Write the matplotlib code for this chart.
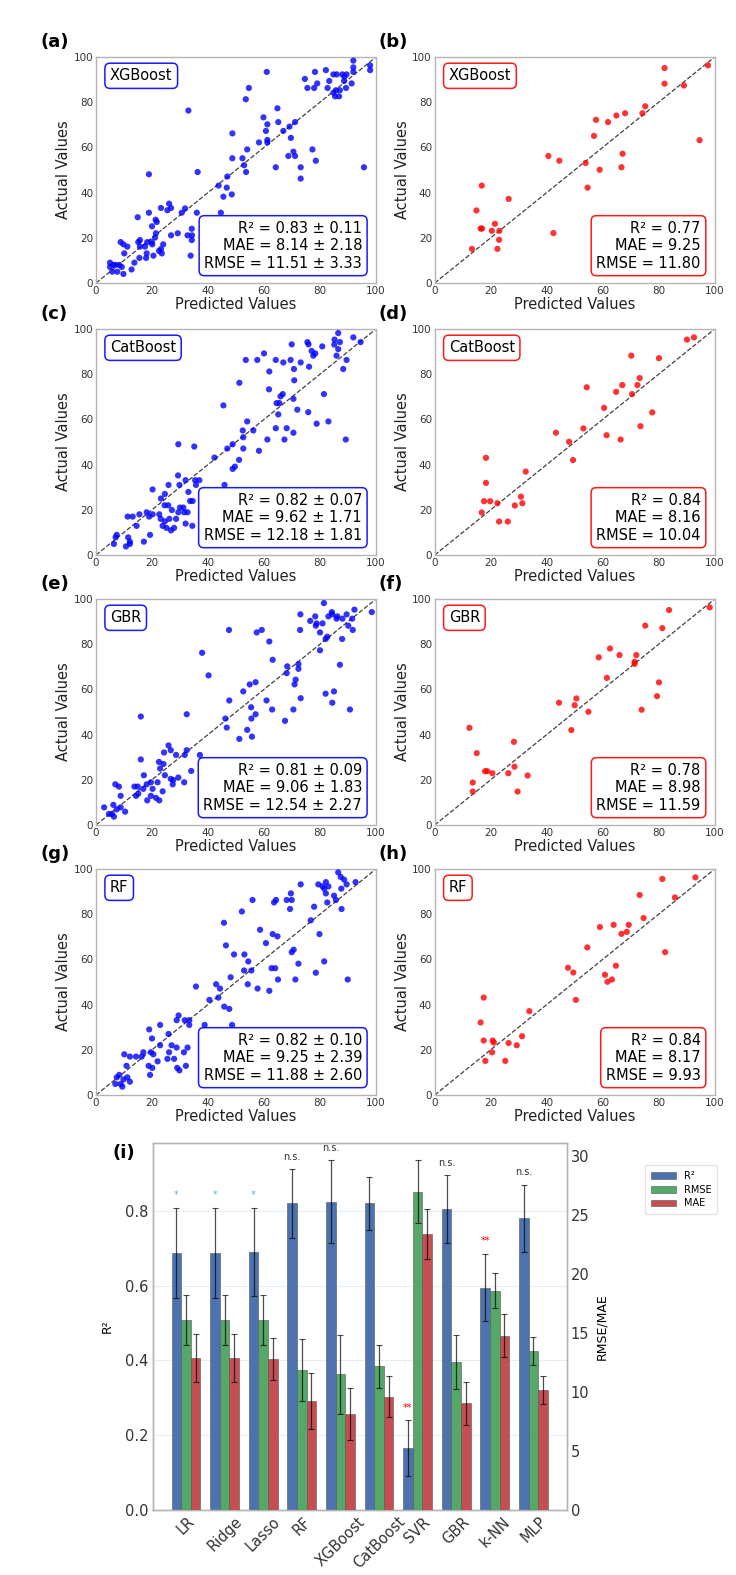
import matplotlib
matplotlib.use("Agg")
import matplotlib.pyplot as plt
import numpy as np

# ---------------- scatter data (predicted, actual) ----------------
# (a) XGBoost, cross-validation
a_pred = [91.9, 91.9, 91.9, 97.9, 97.9, 82.1, 84.8, 78.2, 74.6, 75.5, 77.9, 79.0, 83.3, 82.7, 86.0, 88.0,
          88.7, 89.5, 88.6, 91.3, 89.3, 87.1, 85.7, 84.8, 85.4, 86.8, 61.0, 54.6, 53.5, 33.0, 64.8, 59.8,
          65.1, 61.2, 60.7, 66.9, 69.1, 71.1, 48.7, 61.2, 58.2, 61.2, 69.6, 54.0, 77.3, 70.5, 48.7, 52.3,
          68.7, 71.1, 78.5, 52.9, 64.2, 73.1, 95.7, 53.6, 73.1, 18.9, 36.3, 46.9, 43.8, 46.7, 45.5, 48.5,
          44.6, 36.0, 30.6, 31.8, 26.8, 26.1, 23.2, 25.5, 14.9, 18.9, 21.3, 21.7, 20.0, 26.8, 29.2, 21.4,
          21.1, 19.9, 18.3, 15.7, 15.1, 15.7, 17.5, 20.1, 24.0, 23.2, 22.5, 23.5, 20.5, 18.1, 15.5, 17.9,
          13.7, 8.8, 9.8, 11.2, 10.1, 12.7, 9.8, 9.2, 7.6, 5.0, 6.2, 7.0, 5.8, 5.0, 8.3, 34.3, 32.7, 34.2,
          33.8, 34.2]
a_act = [98.4, 95.4, 93.4, 96.3, 94.2, 94.2, 92.3, 93.4, 90.3, 86.3, 86.3, 88.3, 89.4, 86.3, 92.3, 92.3,
         91.3, 92.3, 89.4, 88.3, 86.3, 85.3, 85.3, 84.2, 82.6, 82.6, 93.4, 86.3, 81.3, 76.3, 77.3, 73.3,
         71.2, 70.2, 67.3, 67.3, 69.2, 71.2, 66.2, 63.3, 62.2, 62.2, 64.2, 59.1, 59.1, 58.1, 55.2, 55.2,
         56.2, 56.2, 54.1, 52.1, 51.2, 51.2, 51.2, 49.1, 46.2, 48.1, 49.1, 47.1, 43.1, 42.2, 38.2, 39.2,
         31.1, 31.1, 31.1, 33.0, 33.2, 35.1, 33.2, 32.2, 29.1, 31.1, 28.0, 27.0, 25.1, 21.1, 22.0, 22.0,
         20.1, 18.1, 18.1, 19.0, 18.1, 16.1, 16.1, 17.1, 17.1, 15.0, 14.2, 13.1, 12.1, 13.1, 11.1, 11.1,
         9.0, 18.1, 17.1, 16.1, 13.1, 6.0, 4.0, 7.1, 5.0, 9.0, 8.0, 8.0, 5.0, 7.1, 8.0, 21.1, 21.1, 19.0,
         12.1, 24.0]

# (b) XGBoost, test set
b_pred = [97.6, 82.1, 82.1, 89.0, 94.6, 75.2, 74.2, 68.0, 64.9, 57.6, 61.9, 56.9, 67.1, 66.7, 58.9, 53.9,
          54.6, 40.6, 44.5, 42.4, 26.4, 16.8, 14.9, 16.4, 16.9, 21.5, 20.4, 23.1, 23.0, 22.4, 13.3]
b_act = [96.3, 95.1, 88.2, 87.4, 63.2, 78.2, 75.1, 75.1, 74.1, 72.2, 71.2, 65.1, 57.2, 51.2, 50.1, 53.1,
         42.2, 56.2, 54.1, 22.1, 37.2, 43.1, 32.1, 24.1, 24.1, 26.2, 23.1, 23.1, 19.1, 15.1, 15.1]

# (c) CatBoost, cross-validation
c_pred = [86.5, 91.9, 94.5, 85.2, 87.1, 85.1, 86.5, 85.9, 89.5, 88.3, 80.8, 78.3, 77.0, 75.5, 75.9, 77.6,
          76.1, 73.1, 69.9, 69.5, 70.7, 66.9, 64.2, 60.0, 57.6, 53.5, 61.9, 70.8, 51.2, 61.8, 81.4, 66.7,
          65.9, 65.5, 64.5, 70.5, 71.9, 75.8, 65.1, 83.0, 78.8, 64.2, 68.1, 70.5, 67.3, 61.2, 89.2, 45.5,
          54.0, 56.2, 52.4, 52.6, 48.8, 46.9, 52.6, 58.2, 42.3, 51.1, 49.6, 48.8, 29.4, 35.1, 45.9, 29.3,
          25.9, 29.8, 32.0, 35.4, 36.9, 35.7, 33.0, 24.6, 20.2, 23.2, 25.8, 24.5, 33.6, 34.5, 30.0, 31.2,
          29.4, 31.5, 32.7, 27.1, 22.6, 18.1, 20.2, 19.0, 15.5, 11.3, 13.1, 23.1, 26.2, 24.6, 28.6, 32.0,
          23.8, 25.2, 27.9, 26.8, 14.5, 19.3, 17.1, 11.5, 12.1, 10.7, 12.1, 7.4, 7.0, 6.4, 34.4]
c_act = [98.2, 96.3, 94.2, 95.3, 94.2, 93.1, 91.1, 88.2, 86.3, 82.3, 92.3, 89.2, 90.3, 94.2, 93.2, 88.2,
         83.3, 85.2, 93.2, 86.3, 82.3, 85.2, 86.3, 89.2, 86.3, 86.3, 81.2, 77.3, 76.2, 73.3, 71.2, 71.2,
         70.2, 67.2, 67.2, 69.1, 64.3, 63.2, 62.2, 59.1, 58.1, 56.1, 56.1, 54.1, 51.1, 51.1, 51.1, 66.2,
         59.1, 55.1, 55.1, 52.1, 49.0, 47.1, 47.1, 46.1, 43.1, 42.1, 39.1, 38.1, 49.0, 48.0, 31.0, 35.2,
         31.0, 31.0, 33.1, 33.1, 33.1, 31.0, 27.9, 27.0, 29.0, 25.0, 22.0, 22.0, 23.9, 23.9, 21.0, 21.0,
         18.9, 18.9, 18.9, 19.9, 18.0, 18.9, 18.0, 17.0, 18.0, 17.0, 17.0, 16.0, 16.0, 14.9, 16.0, 13.9,
         12.9, 12.0, 12.0, 10.9, 12.9, 8.9, 5.9, 7.8, 5.9, 3.8, 4.9, 8.9, 7.8, 4.9, 12.9]

# (d) CatBoost, test set
d_pred = [92.6, 90.1, 80.1, 70.2, 73.2, 67.0, 72.4, 64.8, 70.5, 54.3, 60.5, 77.7, 53.1, 73.5, 43.3, 61.4,
          48.0, 66.4, 49.4, 18.3, 32.5, 18.3, 17.6, 19.8, 22.4, 30.8, 31.3, 28.6, 16.8, 23.0, 26.1]
d_act = [96.3, 95.3, 87.1, 88.2, 78.3, 75.2, 75.2, 72.2, 71.2, 74.2, 65.1, 63.1, 56.0, 57.0, 54.1, 53.0,
         50.1, 51.1, 42.0, 43.0, 36.9, 31.9, 23.8, 23.8, 22.9, 25.8, 22.9, 21.9, 18.8, 14.8, 14.8]

# (e) GBR, cross-validation
e_pred = [81.4, 92.3, 98.5, 89.5, 88.0, 85.9, 84.2, 84.4, 83.0, 86.2, 78.3, 76.5, 78.8, 80.9, 78.5, 91.5,
          90.1, 91.7, 73.0, 72.9, 80.0, 82.6, 82.0, 87.9, 80.0, 47.5, 57.4, 59.2, 61.9, 37.9, 63.1, 72.3,
          87.1, 68.3, 72.3, 68.1, 40.2, 71.3, 70.9, 57.0, 54.9, 52.6, 85.0, 82.0, 73.1, 47.6, 60.9, 84.4,
          55.4, 62.9, 70.5, 90.7, 57.0, 32.4, 46.2, 55.5, 67.5, 46.7, 54.0, 55.7, 51.2, 16.0, 25.9, 26.7,
          24.3, 28.6, 31.7, 32.4, 37.1, 16.0, 22.5, 24.1, 22.9, 34.0, 24.6, 17.1, 29.4, 26.7, 27.6, 31.5,
          22.0, 19.6, 18.1, 16.9, 14.9, 13.7, 27.4, 20.2, 6.9, 8.2, 8.8, 14.3, 15.1, 18.3, 19.6, 21.4,
          22.6, 23.8, 6.2, 7.4, 8.8, 10.4, 5.7, 4.6, 6.4, 2.9]
e_act = [98.2, 95.3, 94.2, 93.2, 91.3, 91.3, 94.2, 93.2, 92.3, 92.3, 92.3, 90.3, 89.2, 89.2, 88.2, 91.3,
         88.2, 86.3, 93.2, 86.3, 85.2, 83.3, 82.3, 82.3, 77.3, 86.3, 85.2, 86.3, 81.2, 76.2, 73.1, 71.2,
         70.9, 70.2, 69.1, 67.2, 66.2, 64.3, 62.2, 63.2, 62.2, 59.1, 59.1, 58.1, 56.1, 55.1, 55.1, 54.1,
         52.1, 51.1, 51.1, 51.1, 49.0, 49.0, 47.1, 47.1, 46.1, 43.1, 42.1, 39.1, 38.1, 48.0, 35.2, 33.1,
         32.1, 31.0, 31.0, 33.1, 31.0, 29.0, 27.9, 27.0, 25.0, 23.9, 22.0, 22.0, 21.0, 20.4, 19.9, 18.9,
         18.9, 18.9, 18.0, 16.0, 17.0, 17.0, 18.0, 16.0, 18.0, 17.0, 12.9, 12.9, 13.9, 10.9, 12.9, 12.0,
         10.9, 14.9, 8.9, 6.9, 7.8, 5.9, 4.9, 4.9, 3.7, 7.8]

# (f) GBR, test set
f_pred = [98.2, 83.7, 75.2, 81.3, 62.6, 58.6, 66.0, 72.0, 71.4, 71.4, 61.5, 80.1, 79.4, 73.9, 50.6, 50.0,
          44.4, 54.9, 48.8, 12.4, 28.3, 15.0, 18.0, 18.8, 20.6, 26.3, 28.5, 33.2, 13.6, 13.6, 29.6]
f_act = [96.3, 95.1, 88.2, 87.1, 78.1, 74.2, 75.2, 75.2, 71.3, 72.2, 65.1, 63.1, 57.0, 51.0, 56.0, 53.0,
         54.1, 50.1, 42.0, 43.0, 36.8, 31.8, 23.8, 23.8, 22.9, 22.9, 25.8, 21.9, 18.8, 14.8, 14.8]

# (g) RF, cross-validation
g_pred = [86.5, 87.4, 88.6, 92.7, 89.5, 87.6, 82.1, 79.4, 80.9, 81.5, 83.0, 82.1, 85.0, 82.6, 85.7, 87.7,
          73.1, 69.6, 68.1, 69.9, 64.3, 63.6, 55.9, 69.3, 77.9, 52.1, 76.7, 45.7, 58.6, 63.1, 64.8, 79.8,
          60.7, 46.4, 70.6, 69.9, 49.3, 53.0, 54.4, 81.5, 72.3, 52.9, 55.5, 62.7, 64.0, 78.5, 48.1, 65.0,
          71.2, 89.9, 54.2, 42.9, 35.7, 57.7, 44.3, 61.9, 43.7, 40.5, 45.8, 47.6, 29.5, 28.8, 31.7, 33.3,
          33.3, 38.8, 48.6, 22.9, 19.0, 25.9, 20.0, 22.9, 27.0, 28.8, 32.7, 26.1, 31.4, 16.9, 19.6, 20.5,
          16.3, 10.1, 12.1, 14.3, 22.0, 25.5, 27.9, 18.8, 20.1, 19.3, 29.0, 29.8, 32.1, 10.9, 8.3, 7.4,
          9.8, 11.2, 12.1, 6.9, 8.8, 9.4]
g_act = [98.5, 96.5, 95.3, 94.2, 93.2, 91.3, 94.2, 93.2, 92.3, 91.3, 92.3, 89.2, 88.2, 85.2, 86.3, 82.3,
         93.2, 89.2, 86.3, 86.3, 86.3, 85.2, 86.3, 82.3, 83.3, 81.2, 77.3, 76.2, 73.1, 71.2, 70.2, 71.2,
         67.2, 66.2, 64.3, 63.2, 62.2, 62.2, 59.1, 59.1, 58.1, 55.1, 55.1, 56.1, 56.1, 54.1, 52.1, 51.1,
         51.1, 51.1, 49.0, 49.0, 48.0, 47.1, 47.1, 46.1, 43.1, 42.1, 39.1, 38.1, 35.2, 33.1, 33.1, 33.1,
         31.0, 31.0, 31.0, 31.0, 29.0, 27.0, 25.0, 22.0, 22.0, 21.0, 21.0, 18.9, 18.9, 18.9, 18.9, 18.0,
         17.0, 18.0, 17.0, 17.0, 14.9, 16.0, 16.0, 12.9, 12.0, 8.9, 12.0, 10.9, 12.9, 12.9, 8.9, 7.8,
         6.9, 7.8, 5.9, 4.9, 4.9, 3.7]

# (h) RF, test set
h_pred = [93.1, 81.3, 85.8, 73.2, 74.6, 59.0, 63.9, 69.3, 66.7, 68.6, 54.5, 82.3, 47.6, 64.7, 49.5, 60.8,
          63.3, 61.7, 50.4, 17.5, 33.8, 16.4, 17.5, 20.7, 21.1, 26.4, 31.2, 29.3, 20.5, 18.1, 25.2]
h_act = [96.3, 95.6, 87.4, 88.5, 78.3, 74.3, 75.3, 75.3, 71.3, 72.2, 65.3, 63.2, 56.3, 57.2, 54.2, 53.2,
         51.1, 50.1, 42.1, 43.1, 37.1, 32.1, 24.1, 24.1, 23.2, 23.0, 26.0, 22.0, 18.9, 15.1, 15.1]

panel_models = ["XGBoost", "XGBoost", "CatBoost", "CatBoost", "GBR", "GBR", "RF", "RF"]
panel_metrics = [
    "R² = 0.83 ± 0.11\nMAE = 8.14 ± 2.18\nRMSE = 11.51 ± 3.33",
    "R² = 0.77\nMAE = 9.25\nRMSE = 11.80",
    "R² = 0.82 ± 0.07\nMAE = 9.62 ± 1.71\nRMSE = 12.18 ± 1.81",
    "R² = 0.84\nMAE = 8.16\nRMSE = 10.04",
    "R² = 0.81 ± 0.09\nMAE = 9.06 ± 1.83\nRMSE = 12.54 ± 2.27",
    "R² = 0.78\nMAE = 8.98\nRMSE = 11.59",
    "R² = 0.82 ± 0.10\nMAE = 9.25 ± 2.39\nRMSE = 11.88 ± 2.60",
    "R² = 0.84\nMAE = 8.17\nRMSE = 9.93",
]
panel_letters = ["(a)", "(b)", "(c)", "(d)", "(e)", "(f)", "(g)", "(h)"]

# ---------------- bar chart data (i) ----------------
models = ["LR", "Ridge", "Lasso", "RF", "XGBoost", "CatBoost", "SVR", "GBR", "k-NN", "MLP"]
r2_mean = [0.688, 0.688, 0.690, 0.820, 0.825, 0.820, 0.165, 0.805, 0.595, 0.780]
r2_std = [0.120, 0.120, 0.118, 0.092, 0.110, 0.070, 0.075, 0.090, 0.090, 0.090]
rmse_mean = [16.1, 16.1, 16.1, 11.88, 11.51, 12.18, 27.0, 12.54, 18.6, 13.5]
rmse_std = [2.1, 2.1, 2.1, 2.60, 3.33, 1.81, 2.65, 2.27, 1.5, 1.2]
mae_mean = [12.9, 12.9, 12.8, 9.25, 8.14, 9.62, 23.4, 9.06, 14.8, 10.2]
mae_std = [2.0, 2.0, 1.8, 2.39, 2.18, 1.71, 2.15, 1.83, 1.85, 1.2]
sig = ["*", "*", "*", "n.s.", "n.s.", "", "**", "n.s.", "**", "n.s."]

plt.rcParams["font.family"] = ["DejaVu Sans"]

fig = plt.figure(figsize=(7.36, 15.75), dpi=100)
W, H = 736.0, 1575.0

scatter_data = [(a_pred, a_act), (b_pred, b_act), (c_pred, c_act), (d_pred, d_act),
                (e_pred, e_act), (f_pred, f_act), (g_pred, g_act), (h_pred, h_act)]
row_tops = [57, 329, 599, 869]
col_lefts = [96, 434.7]
ax_w, ax_h = 280, 226

spine_col = "#b5b5b5"
tick_col = "#333333"

for i, (xp, ya) in enumerate(scatter_data):
    r, c = divmod(i, 2)
    left = col_lefts[c]
    top = row_tops[r]
    ax = fig.add_axes([left / W, 1 - (top + ax_h) / H, ax_w / W, ax_h / H])
    col = "blue" if c == 0 else "red"
    ax.scatter(xp, ya, s=20, color=col, alpha=0.8, edgecolors="none", zorder=3)
    ax.plot([0, 100], [0, 100], "k--", lw=0.9, alpha=0.75, zorder=2)
    ax.set_xlim(0, 100)
    ax.set_ylim(0, 100)
    ax.set_xticks(np.arange(0, 101, 20))
    ax.set_yticks(np.arange(0, 101, 20))
    ax.tick_params(length=0, pad=2, labelsize=7.5, colors=tick_col)
    for s in ax.spines.values():
        s.set_color(spine_col)
        s.set_linewidth(1.0)
    ax.set_xlabel("Predicted Values", fontsize=10.5, labelpad=1, color="#222222")
    ax.set_ylabel("Actual Values", fontsize=10.5, labelpad=2, color="#222222")
    ax.text(0.05, 0.95, panel_models[i], transform=ax.transAxes, ha="left", va="top",
            fontsize=10.5, zorder=5,
            bbox=dict(boxstyle="round,pad=0.35", fc="white", ec=col, lw=1.1, alpha=0.9))
    ax.text(0.95, 0.055, panel_metrics[i], transform=ax.transAxes, ha="right", va="bottom",
            multialignment="right", fontsize=10.5, zorder=5,
            bbox=dict(boxstyle="round,pad=0.35", fc="white", ec=col, lw=1.1, alpha=0.9))
    fig.text((left - 56) / W, 1 - (top - 6) / H, panel_letters[i], fontsize=13,
             fontweight="bold", ha="left", va="bottom")

# ---------------- bar chart ----------------
bx0, bx1, by0, by1 = 152.7, 566.7, 1143, 1510
ax1 = fig.add_axes([bx0 / W, 1 - by1 / H, (bx1 - bx0) / W, (by1 - by0) / H])
ax2 = ax1.twinx()

x = np.arange(len(models))
w = 0.25
c_r2, c_rmse, c_mae = "#4C72B0", "#55A868", "#C44E52"
ekw = dict(ecolor="black", elinewidth=0.9, capsize=2, capthick=0.8, alpha=0.7)

ax1.bar(x - w, r2_mean, w, yerr=r2_std, color=c_r2, edgecolor="#555555", linewidth=0.4,
        error_kw=ekw, label="R²", zorder=3)
ax2.bar(x, rmse_mean, w, yerr=rmse_std, color=c_rmse, edgecolor="#555555", linewidth=0.4,
        error_kw=ekw, label="RMSE", zorder=3)
ax2.bar(x + w, mae_mean, w, yerr=mae_std, color=c_mae, edgecolor="#555555", linewidth=0.4,
        error_kw=ekw, label="MAE", zorder=3)

top1 = max(m + s for m, s in zip(r2_mean, r2_std)) * 1.05
top2 = max(m + s for m, s in zip(rmse_mean, rmse_std)) * 1.05
ax1.set_ylim(0, top1)
ax2.set_ylim(0, top2)
ax1.set_yticks([0.0, 0.2, 0.4, 0.6, 0.8])
ax2.set_yticks([0, 5, 10, 15, 20, 25, 30])
ax1.set_xticks(x)
ax1.set_xticklabels(models, rotation=45, fontsize=10.5)
ax1.grid(axis="y", color="#e6edf3", lw=0.8, zorder=0)
ax1.set_axisbelow(True)
ax1.tick_params(length=0, labelsize=10.5, colors=tick_col, pad=3)
ax2.tick_params(length=0, labelsize=10.5, colors=tick_col, pad=3)
ax1.set_ylabel("R²", fontsize=9, labelpad=8)
ax2.set_ylabel("RMSE/MAE", fontsize=9)
for a in (ax1, ax2):
    for s in a.spines.values():
        s.set_color(spine_col)
        s.set_linewidth(1.0)

for xi, m, s, lab in zip(x, r2_mean, r2_std, sig):
    if not lab:
        continue
    if lab == "*":
        col = "#6baed6"
    elif lab == "**":
        col = "red"
    else:
        col = "#333333"
    ax1.text(xi - w, m + s + 0.02, lab, ha="center", va="bottom", fontsize=7, color=col)

h1, l1 = ax1.get_legend_handles_labels()
h2, l2 = ax2.get_legend_handles_labels()
fig.legend(h1 + h2, l1 + l2, loc="upper left", bbox_to_anchor=(640 / W, 1 - 1160 / H),
           fontsize=7, frameon=True, edgecolor="#dddddd", handlelength=2.6, borderpad=0.6,
           labelspacing=0.4)

fig.text(113 / W, 1 - 1162 / H, "(i)", fontsize=13, fontweight="bold", ha="left", va="bottom")

fig.savefig("out.png", dpi=100)
